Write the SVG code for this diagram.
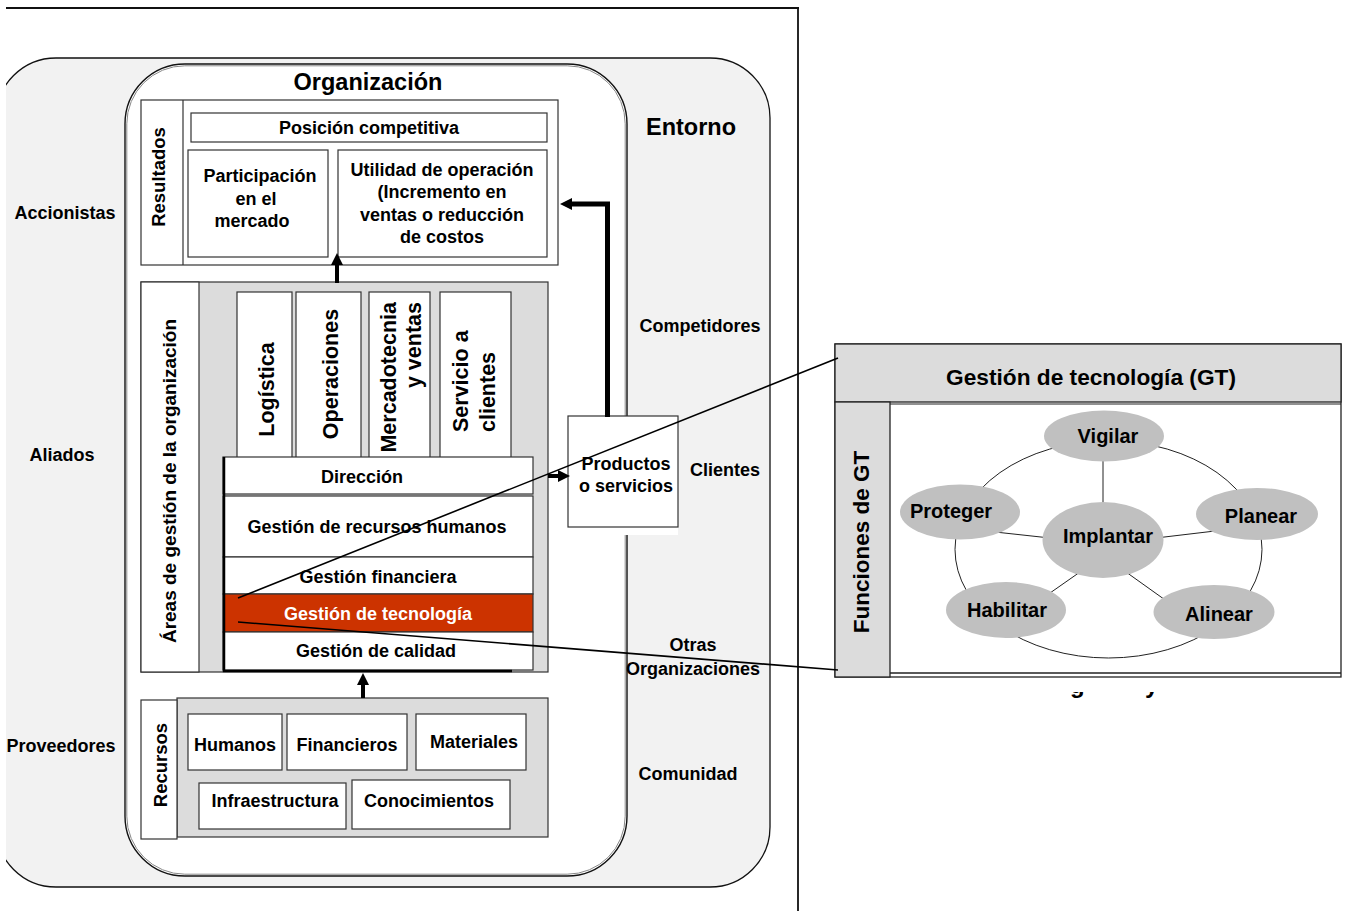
<svg xmlns="http://www.w3.org/2000/svg" width="1348" height="911" viewBox="0 0 1348 911">
  <style>
    .t { font-family: "Liberation Sans", Arial, sans-serif; font-weight: bold; fill: #000; }
    .c { text-anchor: middle; }
    .s18 { font-size: 18px; }
    .box { fill: #fff; stroke: #333; stroke-width: 1.2; }
    .gray { fill: #dcdcdc; stroke: #333; stroke-width: 1.2; }
    .ell { fill: #c0c0c0; stroke: none; }
    .thin { stroke: #222; stroke-width: 1; fill: none; }
    .zoom { stroke: #000; stroke-width: 1.6; fill: none; }
  </style>
  <defs>
    <marker id="head" viewBox="0 0 12 12" refX="1" refY="6" markerWidth="12" markerHeight="12" markerUnits="userSpaceOnUse" orient="auto">
      <path d="M0,0 L12,6 L0,12 z" fill="#000"/>
    </marker>
    <clipPath id="frameClip">
      <rect x="6" y="0" width="800" height="911"/>
    </clipPath>
  </defs>

  <rect width="1348" height="911" fill="#fff"/>

  <!-- outer frame -->
  <g id="frame">
    <line x1="6" y1="8" x2="799" y2="8" stroke="#111" stroke-width="1.8"/>
    <line x1="798" y1="8" x2="798" y2="911" stroke="#111" stroke-width="1.8"/>
  </g>

  <!-- environment -->
  <g id="entorno" clip-path="url(#frameClip)">
    <rect x="-4" y="58" width="774" height="829" rx="60" ry="60" fill="#f2f2f2" stroke="#111" stroke-width="1.3"/>
  </g>

  <!-- organization -->
  <g id="organizacion">
    <rect x="125" y="64" width="502" height="812" rx="60" ry="60" fill="#fff" stroke="#111" stroke-width="1.4"/>
    <rect x="126.8" y="65.8" width="498.4" height="808.4" rx="58" ry="58" fill="none" stroke="#888" stroke-width="1"/>
    <text class="t c" x="368" y="90" font-size="23.5">Organización</text>
  </g>

  <!-- results -->
  <g id="resultados">
    <rect class="box" x="141" y="100" width="417" height="165"/>
    <line x1="183" y1="100" x2="183" y2="265" stroke="#333" stroke-width="1.2"/>
    <text class="t c" font-size="18.5" transform="translate(165,177) rotate(-90)">Resultados</text>
    <rect class="box" x="191" y="113" width="356" height="29"/>
    <text class="t c s18" x="369" y="134">Posición competitiva</text>
    <rect class="box" x="188" y="150" width="140" height="107"/>
    <text class="t c s18" x="260" y="182">Participación</text>
    <text class="t c s18" x="256" y="205">en el</text>
    <text class="t c s18" x="252" y="227">mercado</text>
    <rect class="box" x="338" y="150" width="209" height="107"/>
    <text class="t c s18" x="442" y="176">Utilidad de operación</text>
    <text class="t c s18" x="442" y="198">(Incremento en</text>
    <text class="t c s18" x="442" y="221">ventas o reducción</text>
    <text class="t c s18" x="442" y="243">de costos</text>
  </g>

  <!-- management areas -->
  <g id="areas">
    <rect class="gray" x="141" y="282" width="407" height="390"/>
    <rect class="box" x="141" y="282" width="58" height="390"/>
    <text class="t c" font-size="19" transform="translate(176,481) rotate(-90)">Áreas de gestión de la organización</text>

    <rect class="box" x="237" y="292" width="55" height="166"/>
    <text class="t c" font-size="21.5" transform="translate(274,389.5) rotate(-90)">Logística</text>
    <rect class="box" x="296" y="292" width="65" height="166"/>
    <text class="t c" font-size="21.5" transform="translate(338,374) rotate(-90)">Operaciones</text>
    <rect class="box" x="369" y="292" width="61" height="166"/>
    <text class="t" font-size="21.5" text-anchor="end" transform="translate(396,302) rotate(-90)">Mercadotecnia</text>
    <text class="t" font-size="21.5" text-anchor="end" transform="translate(421,302) rotate(-90)">y ventas</text>
    <rect class="box" x="440" y="292" width="71" height="166"/>
    <text class="t" font-size="21.5" transform="translate(468,432) rotate(-90)">Servicio a</text>
    <text class="t" font-size="21.5" transform="translate(495,432) rotate(-90)">clientes</text>

    <rect class="box" x="223" y="457" width="310" height="37"/>
    <text class="t c s18" x="362" y="483">Dirección</text>
    <rect class="box" x="223" y="496" width="310" height="61"/>
    <text class="t c s18" x="377" y="533">Gestión de recursos humanos</text>
    <rect class="box" x="223" y="557" width="310" height="37"/>
    <text class="t c s18" x="378" y="583">Gestión financiera</text>
    <rect x="223" y="594" width="310" height="38" fill="#cc3300" stroke="#333" stroke-width="1.2"/>
    <text class="t c s18" x="378" y="620" style="fill:#fff">Gestión de tecnología</text>
    <rect class="box" x="223" y="632" width="310" height="38"/>
    <text class="t c s18" x="376" y="657">Gestión de calidad</text>
    <path d="M224,457 V671 H512" fill="none" stroke="#000" stroke-width="2.5"/>
  </g>

  <!-- resources -->
  <g id="recursos">
    <rect class="gray" x="177" y="698" width="371" height="139"/>
    <rect class="box" x="141" y="700" width="36" height="139"/>
    <text class="t c" font-size="18.5" transform="translate(167,765) rotate(-90)">Recursos</text>
    <rect class="box" x="188" y="714" width="94" height="56"/>
    <text class="t c s18" x="235" y="751">Humanos</text>
    <rect class="box" x="287" y="714" width="120" height="56"/>
    <text class="t c s18" x="347" y="751">Financieros</text>
    <rect class="box" x="416" y="714" width="110" height="56"/>
    <text class="t c s18" x="474" y="748">Materiales</text>
    <rect class="box" x="199" y="783" width="147" height="46"/>
    <text class="t c s18" x="275" y="807">Infraestructura</text>
    <rect class="box" x="352" y="780" width="158" height="49"/>
    <text class="t c s18" x="429" y="807">Conocimientos</text>
  </g>

  <!-- products -->
  <g id="productos">
    <rect x="569" y="527" width="109" height="8" fill="#fff"/>
    <rect class="box" x="568" y="416" width="110" height="111"/>
    <text class="t c s18" x="626" y="470">Productos</text>
    <text class="t c s18" x="626" y="492">o servicios</text>
  </g>

  <!-- connectors -->
  <g id="connectors" fill="none" stroke="#000">
    <path d="M607.5,417 V204 H571" stroke-width="5" stroke-linejoin="miter" marker-end="url(#head)"/>
    <path d="M548,476 H559" stroke-width="4" marker-end="url(#head)"/>
    <path d="M337,283 V264" stroke-width="4" marker-end="url(#head)"/>
    <path d="M363,698 V684" stroke-width="4" marker-end="url(#head)"/>
  </g>

  <!-- environment labels -->
  <g id="stakeholders">
    <text class="t c" x="691" y="135" font-size="23.5">Entorno</text>
    <text class="t c s18" x="65" y="219">Accionistas</text>
    <text class="t c s18" x="62" y="461">Aliados</text>
    <text class="t c s18" x="61" y="752">Proveedores</text>
    <text class="t c s18" x="700" y="332">Competidores</text>
    <text class="t c s18" x="725" y="476">Clientes</text>
    <text class="t c s18" x="693" y="651">Otras</text>
    <text class="t c s18" x="693" y="675">Organizaciones</text>
    <text class="t c s18" x="688" y="780">Comunidad</text>
  </g>

  <!-- technology management detail -->
  <g id="panel-gt">
    <text class="t" x="1070" y="693" font-size="24" font-weight="normal">g</text>
    <text class="t" x="1145" y="693" font-size="24" font-weight="normal">y</text>
    <rect x="830" y="676" width="515" height="16" fill="#fff"/>
    <rect x="835" y="344" width="506" height="333" fill="#fff" stroke="#222" stroke-width="1.3"/>
    <rect x="835" y="344" width="506" height="58" fill="#dcdcdc" stroke="#222" stroke-width="1.3"/>
    <rect x="835" y="402" width="55" height="275" fill="#dcdcdc" stroke="#222" stroke-width="1.3"/>
    <line x1="890" y1="404" x2="1341" y2="404" stroke="#222" stroke-width="1"/>
    <line x1="890" y1="673" x2="1341" y2="673" stroke="#222" stroke-width="1.3"/>
    <text class="t c" x="1091" y="385" font-size="22.7">Gestión de tecnología (GT)</text>
    <text class="t c" font-size="22.5" transform="translate(869,542) rotate(-90)">Funciones de GT</text>
  </g>

  <g id="ciclo">
    <ellipse class="thin" cx="1108.5" cy="549.4" rx="153.5" ry="108.6"/>
    <line class="thin" x1="1103" y1="455" x2="1103" y2="510"/>
    <line class="thin" x1="995" y1="532" x2="1050" y2="538"/>
    <line class="thin" x1="1156" y1="538" x2="1215" y2="531"/>
    <line class="thin" x1="1040" y1="600" x2="1080" y2="572"/>
    <line class="thin" x1="1126" y1="572" x2="1168" y2="602"/>
  </g>
  <g id="vigilar">
    <ellipse class="ell" cx="1104" cy="436" rx="60" ry="25.5"/>
    <text class="t c" x="1108" y="443" font-size="20">Vigilar</text>
  </g>
  <g id="proteger">
    <ellipse class="ell" cx="960" cy="512" rx="60" ry="27.5"/>
    <text class="t c" x="951" y="518" font-size="20">Proteger</text>
  </g>
  <g id="planear">
    <ellipse class="ell" cx="1257" cy="514" rx="61" ry="26"/>
    <text class="t c" x="1261" y="523" font-size="20">Planear</text>
  </g>
  <g id="implantar">
    <ellipse class="ell" cx="1103" cy="540" rx="60.5" ry="38"/>
    <text class="t c" x="1108" y="543" font-size="20">Implantar</text>
  </g>
  <g id="habilitar">
    <ellipse class="ell" cx="1006" cy="610" rx="60" ry="28"/>
    <text class="t c" x="1007" y="617" font-size="20">Habilitar</text>
  </g>
  <g id="alinear">
    <ellipse class="ell" cx="1214" cy="612" rx="60.5" ry="27"/>
    <text class="t c" x="1219" y="621" font-size="20">Alinear</text>
  </g>

  <!-- callout lines -->
  <g id="callout">
    <line class="zoom" x1="238" y1="598" x2="838" y2="358"/>
    <line class="zoom" x1="238" y1="622" x2="838" y2="670"/>
  </g>
</svg>
